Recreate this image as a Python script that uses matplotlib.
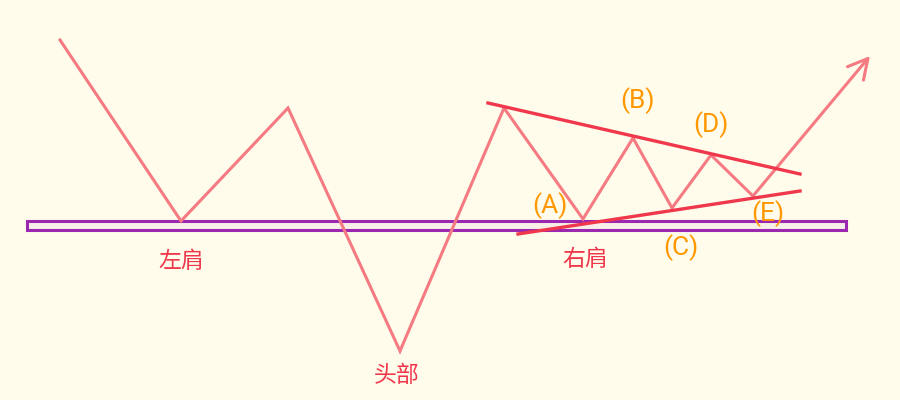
import matplotlib.pyplot as plt
from matplotlib.patches import Rectangle

plt.rcParams['font.family'] = ['Noto Sans CJK SC', 'DejaVu Sans']

# price path vertices (pixel coords, y down)
path_x = [60, 181, 288, 400, 504, 583, 633, 672, 711, 753, 870]
path_y = [40, 221, 108, 351, 108, 219, 138, 208, 155, 196, 56]

# triangle trendlines
upper_x = [488, 800]
upper_y = [103, 174]
lower_x = [518, 800]
lower_y = [234, 191]

# neckline box
neck_x0, neck_x1 = 27, 846
neck_y0, neck_y1 = 221, 230

labels = ['左肩', '头部', '右肩']
label_x = [181, 397, 585]
label_y = [261, 375, 259]

wave = ['(A)', '(B)', '(C)', '(D)', '(E)']
wave_x = [550, 637, 681, 711, 768]
wave_y = [206, 101, 248, 125, 214]

bg = '#FFFCEB'
fig = plt.figure(figsize=(9, 4), dpi=100, facecolor=bg)
ax = fig.add_axes([0, 0, 1, 1])
ax.set_facecolor(bg)
ax.set_xlim(0, 900)
ax.set_ylim(400, 0)
ax.axis('off')

ax.add_patch(Rectangle((neck_x0, neck_y0), neck_x1 - neck_x0, neck_y1 - neck_y0,
                       facecolor='#F8EFE8', edgecolor='#9C27B0', lw=2.2, zorder=1))

ax.plot(path_x[:-1], path_y[:-1], color='#F57A82', lw=2.2, solid_joinstyle='miter', zorder=2)
ax.annotate('', xy=(path_x[-1], path_y[-1]), xytext=(path_x[-2], path_y[-2]),
            arrowprops=dict(arrowstyle='->,head_length=1.4,head_width=0.75',
                            color='#F57A82', lw=2.2, shrinkA=0, shrinkB=0), zorder=2)

ax.plot(upper_x, upper_y, color='#F0384D', lw=2.4, zorder=3)
ax.plot(lower_x, lower_y, color='#F0384D', lw=2.4, zorder=3)

for t, x, y in zip(labels, label_x, label_y):
    ax.text(x, y, t, color='#F0384D', fontsize=16.5, ha='center', va='center', zorder=4)

for t, x, y in zip(wave, wave_x, wave_y):
    ax.text(x, y, t, color='#FF9800', fontsize=19, ha='center', va='center',
            family='Roboto', zorder=4)

fig.savefig('out.png', dpi=100, facecolor=bg)
